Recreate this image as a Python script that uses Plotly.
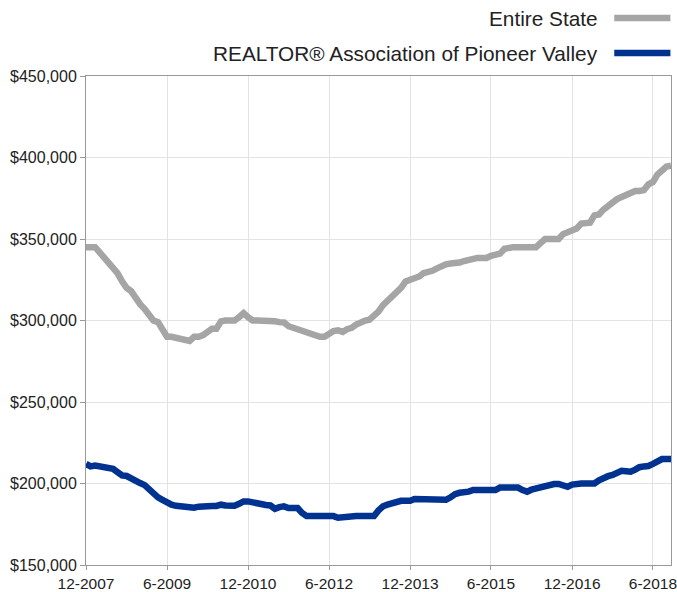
import pandas as pd
import plotly.graph_objects as go

months = pd.date_range("2007-12-01", periods=131, freq="MS")

series_names = ["Entire State", "REALTOR® Association of Pioneer Valley"]

entire_state_k = [
    345, 345, 345, 342, 339, 336, 333, 329, 324, 320,
    318, 313, 310, 307, 303, 300, 299, 295, 290, 290,
    289.5, 289, 288, 287.5, 290, 290, 291, 293.5, 295, 295,
    299.5, 300, 300, 300, 302, 304.5, 302, 300, 300, 300,
    300, 300, 299.5, 299, 298.8, 296.5, 295.5, 295, 294, 293,
    291, 290, 290, 290, 292, 293.5, 294, 293, 294.7, 295.5,
    297.5, 299, 300, 300.5, 302.5, 305.5, 309.5, 312, 314.5, 318,
    320, 324, 325, 325, 327, 329, 329.5, 330.5, 332, 333.5,
    334.5, 335, 335, 335.6, 336.5, 337.5, 338, 338.4, 338.4, 338.4,
    339.6, 340, 341, 344, 345, 345, 345, 345, 345, 345,
    345, 347.5, 350, 350, 350, 350, 353, 354.5, 355, 356.5,
    359.5, 360, 360, 364.5, 365, 368, 370.5, 372.5, 374.5, 375.8,
    377, 379, 379.5, 379.5, 380, 383.5, 385, 389.5, 392, 394.5,
    395,
]

pioneer_valley_k = [
    212, 210.5, 211, 210.5, 210.5, 210, 209, 207, 205, 204.6,
    203, 201, 200.3, 199, 196, 193.5, 191.5, 190, 188, 187,
    186.3, 186, 185, 185, 185.2, 185.8, 186.2, 186.2, 186.2, 186.2,
    187, 186.5, 186.4, 186.4, 187.5, 189, 189, 188.3, 187.5, 186.8,
    186.8, 186.5, 184.5, 185.5, 186, 185, 185, 185, 182, 180,
    180, 180, 180, 180, 180, 180, 179, 179.5, 179.2, 179.5,
    180, 180, 180, 180, 180, 183.5, 186, 187, 188, 189.3,
    189.4, 189.4, 189.4, 190.5, 190.5, 190.5, 190.5, 190.5, 190.9, 190.5,
    190, 191.5, 193.5, 194.3, 194.3, 195, 196, 196, 196, 196,
    196, 196, 197.5, 197.5, 197.4, 198.2, 197.5, 196, 195, 196.2,
    197, 197.6, 199, 199.7, 199.7, 199.7, 199, 198, 199.3, 200,
    200, 200, 200, 200, 202, 203.8, 204.5, 205.2, 206.5, 207.8,
    207.5, 207.2, 208.5, 210, 210.5, 210.7, 212, 213.5, 215, 215,
    215,
]

tick_dates = ["2007-12-01", "2009-06-01", "2010-12-01", "2012-06-01",
              "2013-12-01", "2015-06-01", "2016-12-01", "2018-06-01"]
tick_labels = ["12-2007", "6-2009", "12-2010", "6-2012",
               "12-2013", "6-2015", "12-2016", "6-2018"]

colors = ["#a5a5a5", "#00328f"]

assert len(entire_state_k) == len(months) == len(pioneer_valley_k)

fig = go.Figure()
for name, vals, col in zip(series_names, [entire_state_k, pioneer_valley_k], colors):
    fig.add_trace(go.Scatter(
        x=months, y=[v * 1000 for v in vals], mode="lines", name=name,
        line=dict(color=col, width=6.5), showlegend=False,
    ))

font_family = "Liberation Sans, Arial, sans-serif"

# Legend (text left of the line swatch, right aligned)
legend_y = [1.1186, 1.047]
for name, col, yy in zip(series_names, colors, legend_y):
    fig.add_annotation(x=0.8786, y=yy, xref="paper", yref="paper",
                       text=name, showarrow=False, xanchor="right", yanchor="middle",
                       font=dict(size=20.8, color="#222222", family=font_family))
    fig.add_shape(type="line", xref="paper", yref="paper",
                  x0=0.903, x1=0.999, y0=yy, y1=yy,
                  line=dict(color=col, width=6.5))

fig.update_layout(
    width=677, height=592,
    margin=dict(l=86, r=6, t=76, b=27),
    plot_bgcolor="white", paper_bgcolor="white",
    font=dict(family=font_family, size=16, color="#222222"),
)
fig.update_xaxes(
    range=[months[0], months[-1]],
    tickvals=tick_dates, ticktext=tick_labels,
    showgrid=True, gridcolor="#e3e3e3", gridwidth=1,
    showline=True, linecolor="#999999", linewidth=1, mirror=True,
    ticks="outside", ticklen=4, tickcolor="#999999",
    tickfont=dict(size=15.5), zeroline=False, automargin=False,
    ticklabeloverflow="allow",
)
fig.update_yaxes(
    range=[150000, 450000], dtick=50000, tickprefix="$", tickformat=",d",
    showgrid=True, gridcolor="#e3e3e3", gridwidth=1,
    showline=True, linecolor="#999999", linewidth=1, mirror=True,
    ticks="outside", ticklen=5, tickcolor="#999999",
    tickfont=dict(size=16), zeroline=False, automargin=False,
    ticklabeloverflow="allow",
)

fig.write_html(
    "out.html",
    config={"displayModeBar": False},
    post_script="document.body.style.margin='0';document.body.style.overflow='hidden';",
)
